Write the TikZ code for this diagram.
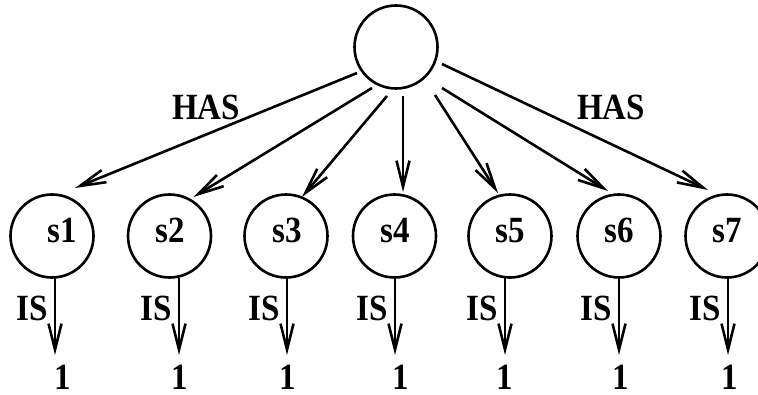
\documentclass[tikz,border=0pt]{standalone}
\usepackage{graphicx}
\usepackage{fontspec}
\setmainfont{Liberation Serif}
\usetikzlibrary{arrows.meta,calc}
\newcommand{\lbtxt}[1]{\scalebox{1}[1.12]{#1}}
\begin{document}
\begin{tikzpicture}[x=1pt,y=1pt,
  every node/.style={inner sep=0pt, outer sep=0pt},
  circ/.style={draw, circle, line width=2.6pt, minimum size=83pt},
  lbl/.style={font=\fontsize{33}{33}\selectfont\bfseries},
  arr/.style={line width=2.6pt, -{Straight Barb[length=26pt,width=13pt]}}
]
\useasboundingbox (0,0) rectangle (758,394);

% nodes
\node[circ] (top) at (396,347) {};
\node[circ] (s1) at (52,158) {};
\node[circ] (s2) at (169.5,158) {};
\node[circ] (s3) at (286,158) {};
\node[circ] (s4) at (394.5,158) {};
\node[circ] (s5) at (510,158) {};
\node[circ] (s6) at (619,158) {};
\node[circ] (s7) at (727,158) {};

% circle texts
\node[lbl, anchor=base] (t1) at (62,151) {\lbtxt{s1}};
\node[lbl, anchor=base] (t2) at (170.5,151) {\lbtxt{s2}};
\node[lbl, anchor=base] (t3) at (287,151) {\lbtxt{s3}};
\node[lbl, anchor=base] (t4) at (395,151) {\lbtxt{s4}};
\node[lbl, anchor=base] (t5) at (510.5,151) {\lbtxt{s5}};
\node[lbl, anchor=base] (t6) at (619.5,151) {\lbtxt{s6}};
\node[lbl, anchor=base] (t7) at (727.5,151) {\lbtxt{s7}};

% bottom values
\node[lbl, anchor=base] (o1) at (62.5,5) {\lbtxt{1}};
\node[lbl, anchor=base] (o2) at (179.5,5) {\lbtxt{1}};
\node[lbl, anchor=base] (o3) at (287.5,5) {\lbtxt{1}};
\node[lbl, anchor=base] (o4) at (401,5) {\lbtxt{1}};
\node[lbl, anchor=base] (o5) at (504.5,5) {\lbtxt{1}};
\node[lbl, anchor=base] (o6) at (620.5,5) {\lbtxt{1}};
\node[lbl, anchor=base] (o7) at (729.5,5) {\lbtxt{1}};

% HAS labels
\node[lbl, anchor=base] (h1) at (206,274) {\lbtxt{HAS}};
\node[lbl, anchor=base] (h2) at (611,274) {\lbtxt{HAS}};

% HAS arrows
\draw[arr] ($(top)+(-39,-26)$) -- ($(s1)+(23,48)$);
\draw[arr] ($(top)+(-24,-41)$) -- ($(s2)+(24,39)$);
\draw[arr] ($(top)+(-9,-49)$) -- ($(s3)+(16,39)$);
\draw[arr] ($(top)+(7,-49)$) -- ($(s4)+(8.5,44)$);
\draw[arr] ($(top)+(39,-48)$) -- ($(s5)+(-12,43)$);
\draw[arr] ($(top)+(46,-41)$) -- ($(s6)+(-11,45)$);
\draw[arr] ($(top)+(46,-17)$) -- ($(s7)+(-19,46)$);

% IS arrows and labels
\draw[arr] ($(s1)+(3,-42)$) -- ($(o1.base)+(-7.5,34)$);
\draw[arr] ($(s2)+(9.5,-42)$) -- ($(o2.base)+(-0.5,34)$);
\draw[arr] ($(s3)+(1,-42)$) -- ($(o3.base)+(-0.5,34)$);
\draw[arr] ($(s4)+(0.5,-42)$) -- ($(o4.base)+(-6,34)$);
\draw[arr] ($(s5)+(-5,-42)$) -- ($(o5.base)+(0.5,34)$);
\draw[arr] ($(s6)+(0,-42)$) -- ($(o6.base)+(-1.5,34)$);
\draw[arr] ($(s7)+(1,-42)$) -- ($(o7.base)+(-1.5,34)$);

\node[lbl, anchor=base east] (is1) at ($(s1)+(-4,-84)$) {\lbtxt{IS}};
\node[lbl, anchor=base east] (is2) at ($(s2)+(2.5,-84)$) {\lbtxt{IS}};
\node[lbl, anchor=base east] (is3) at ($(s3)+(-6,-84)$) {\lbtxt{IS}};
\node[lbl, anchor=base east] (is4) at ($(s4)+(-6.5,-84)$) {\lbtxt{IS}};
\node[lbl, anchor=base east] (is5) at ($(s5)+(-12,-84)$) {\lbtxt{IS}};
\node[lbl, anchor=base east] (is6) at ($(s6)+(-7,-84)$) {\lbtxt{IS}};
\node[lbl, anchor=base east] (is7) at ($(s7)+(-6,-84)$) {\lbtxt{IS}};
\end{tikzpicture}
\end{document}
